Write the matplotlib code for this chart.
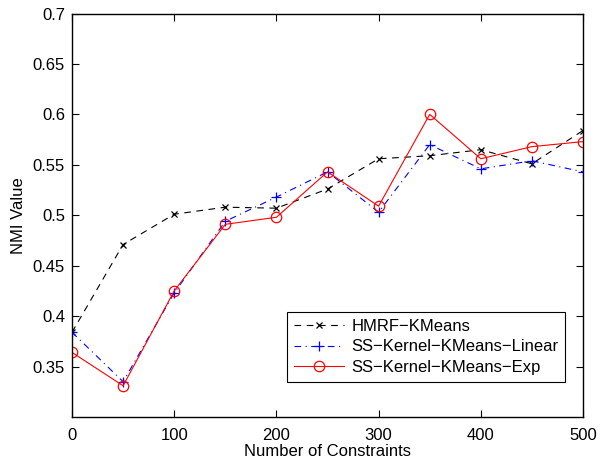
import matplotlib
matplotlib.use("Agg")
import matplotlib.pyplot as plt

plt.rcParams['font.family'] = ['Liberation Sans', 'DejaVu Sans']

constraints = [0, 50, 100, 150, 200, 250, 300, 350, 400, 450, 500]
hmrf = [0.384, 0.471, 0.501, 0.508, 0.507, 0.526, 0.556, 0.559, 0.565, 0.551, 0.584]
linear = [0.384, 0.335, 0.423, 0.494, 0.518, 0.543, 0.503, 0.570, 0.546, 0.554, 0.543]
expk = [0.364, 0.331, 0.425, 0.491, 0.498, 0.543, 0.509, 0.600, 0.556, 0.568, 0.573]
labels = ['HMRF\u2212KMeans', 'SS\u2212Kernel\u2212KMeans\u2212Linear', 'SS\u2212Kernel\u2212KMeans\u2212Exp']
yticks = [0.35, 0.4, 0.45, 0.5, 0.55, 0.6, 0.65, 0.7]
xticks = [0, 100, 200, 300, 400, 500]

fig = plt.figure(figsize=(6.03, 4.63), dpi=100)
ax = fig.add_axes([72/603, 1-417/463, 511/603, 403.5/463])

ax.plot(constraints, hmrf, color='black', linestyle=(0, (6, 5)), marker='x',
        markersize=5, linewidth=0.8, markeredgewidth=0.9, label=labels[0])
ax.plot(constraints, linear, color='blue', linestyle=(0, (6, 4, 1, 4)), marker='+',
        markersize=7, linewidth=0.8, markeredgewidth=0.9, label=labels[1])
ax.plot(constraints, expk, color='red', linestyle='-', marker='o', markerfacecolor='none',
        markersize=7.5, linewidth=0.8, markeredgewidth=0.9, label=labels[2])

ax.set_xlim(0, 500)
ax.set_ylim(0.3, 0.7)
ax.set_xticks(xticks)
ax.set_yticks(yticks)
ax.set_yticklabels([f"{v:g}" for v in yticks])
ax.tick_params(direction='in', top=True, right=True, labelsize=12, length=5, width=0.8, pad=5)
ax.tick_params(axis='x', pad=8)
for s in ax.spines.values():
    s.set_linewidth(1.0)

ax.set_xlabel('Number of Constraints', fontsize=12, labelpad=1)
ax.set_ylabel('NMI Value', fontsize=12, labelpad=5)

leg = ax.legend(loc='lower right', bbox_to_anchor=(0.965, 0.087), borderaxespad=0,
                fontsize=12, fancybox=False, edgecolor='black', framealpha=1,
                handlelength=3.0, labelspacing=0.35, borderpad=0.4, handletextpad=0.45)
leg.get_frame().set_linewidth(0.8)

fig.savefig('out.png', dpi=100)
